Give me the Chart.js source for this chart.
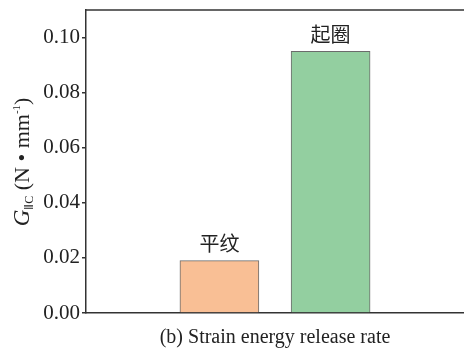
<!DOCTYPE html>
<html>
<head>
<meta charset="utf-8">
<script src="https://cdn.jsdelivr.net/npm/chart.js@4/dist/chart.umd.min.js"></script>
<style>
  html, body { margin: 0; padding: 0; background: #fff; }
  #wrap { width: 464px; height: 352px; }
</style>
</head>
<body>
<div id="wrap"><canvas id="c" width="464" height="352"></canvas></div>
<script>
// Fabric structures and their mode-II strain energy release rate (N/mm)
const categories = ['平纹', '起圈'];
const values = [0.019, 0.095];
const yTicks = [0.00, 0.02, 0.04, 0.06, 0.08, 0.10];
const barColors = ['#F9BF95', '#93CFA0'];
const xTitle = '(b) Strain energy release rate';

const SERIF = '"Liberation Serif", "Times New Roman", serif';
const CJK = '"Noto Sans CJK SC", sans-serif';
const AXIS = '#333333';

// Frame line on top, value captions, and the rich-text axis titles
const decorations = {
  id: 'decorations',
  afterDatasetsDraw(chart) {
    const { ctx, chartArea: a, scales } = chart;
    ctx.save();
    ctx.strokeStyle = AXIS;
    ctx.lineWidth = 1.5;
    ctx.beginPath();
    ctx.moveTo(a.left, a.top);
    ctx.lineTo(a.right, a.top);
    ctx.stroke();

    // category names above each bar
    const meta = chart.getDatasetMeta(0);
    ctx.fillStyle = '#222';
    ctx.font = '20px ' + CJK;
    ctx.textAlign = 'center';
    ctx.textBaseline = 'middle';
    meta.data.forEach((bar, i) => {
      ctx.fillText(categories[i], bar.x, scales.y.getPixelForValue(values[i]) - 17);
    });

    // x title
    ctx.font = '20px ' + SERIF;
    ctx.fillText(xTitle, (a.left + a.right) / 2, 338);

    // y title: G_{IIC} (N • mm^-1), rotated
    ctx.translate(22, 162);
    ctx.rotate(-Math.PI / 2);
    const parts = [
      { t: 'G', f: 'italic 23px ' + SERIF, dy: 0 },
      { t: 'ⅡC', f: '12px ' + SERIF, dy: 4 },
      { t: ' (N • mm', f: '22px ' + SERIF, dy: 0 },
      { t: '-1', f: '11px ' + SERIF, dy: -9 },
      { t: ')', f: '22px ' + SERIF, dy: 0 }
    ];
    let total = 0;
    parts.forEach(p => { ctx.font = p.f; p.w = ctx.measureText(p.t).width; total += p.w; });
    let x = -total / 2;
    ctx.textAlign = 'left';
    ctx.textBaseline = 'alphabetic';
    parts.forEach(p => {
      ctx.font = p.f;
      ctx.fillText(p.t, x, 7 + p.dy);
      x += p.w;
    });
    ctx.restore();
  }
};

new Chart(document.getElementById('c'), {
  type: 'bar',
  data: {
    datasets: [{
      data: values.map((v, i) => ({ x: i, y: v })),
      backgroundColor: barColors,
      borderColor: '#6b6b6b',
      borderWidth: 1,
      barThickness: 79
    }]
  },
  options: {
    responsive: false,
    animation: false,
    layout: { padding: { top: 10, right: 0, left: 0, bottom: 0 } },
    plugins: { legend: { display: false }, tooltip: { enabled: false } },
    scales: {
      x: {
        type: 'linear',
        min: -1.2,
        max: 2.2,
        offset: false,
        grid: { display: false },
        ticks: { display: false },
        border: { display: true, color: AXIS, width: 1.5 },
        afterFit(scale) { scale.height = 39; }
      },
      y: {
        min: 0,
        max: 0.11,
        afterBuildTicks(scale) {
          scale.ticks = yTicks.map(v => ({ value: v }));
        },
        ticks: {
          color: '#222',
          font: { family: SERIF, size: 21 },
          padding: 2,
          callback: v => v.toFixed(2)
        },
        grid: { display: true, drawOnChartArea: false, tickLength: 4, color: AXIS, lineWidth: 1.5 },
        border: { display: true, color: AXIS, width: 1.5 },
        afterFit(scale) {
          scale.width = 86;
          scale.paddingTop = 0;
          scale.paddingBottom = 0;
        }
      }
    }
  },
  plugins: [decorations]
});
</script>
</body>
</html>
